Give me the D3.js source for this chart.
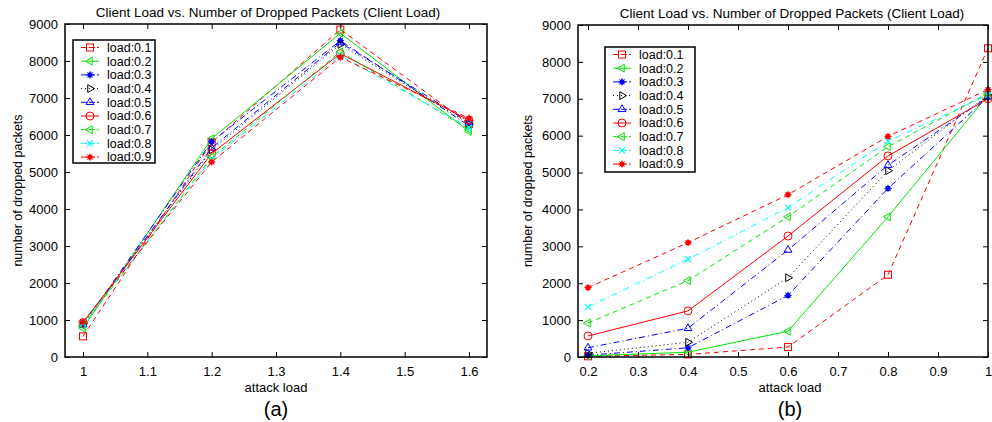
<!DOCTYPE html>
<html lang="en">
<head>
    <meta charset="UTF-8">
    <title>Client Load vs. Number of Dropped Packets</title>
    <script src="https://d3js.org/d3.v7.min.js"></script>
    <style>
        body {
            margin: 0;
            background: #fff;
            font-family: "Liberation Sans", Arial, sans-serif;
        }
        svg text {
            fill: #000;
        }
    </style>
</head>
<body>
    <script>
        // Data
        const loads = ["load:0.1", "load:0.2", "load:0.3", "load:0.4", "load:0.5",
                       "load:0.6", "load:0.7", "load:0.8", "load:0.9"];

        // panel (a): attack load 1 .. 1.6
        const attackA = [1, 1.2, 1.4, 1.6];
        const valuesA = [
            [560, 5800, 8850, 6300],
            [780, 5900, 8750, 6100],
            [870, 5820, 8550, 6250],
            [900, 5600, 8450, 6300],
            [880, 5650, 8500, 6350],
            [930, 5500, 8200, 6400],
            [850, 5400, 8250, 6150],
            [900, 5350, 8150, 6200],
            [950, 5270, 8100, 6450]
        ];

        // panel (b): attack load 0.2 .. 1
        const attackB = [0.2, 0.4, 0.6, 0.8, 1.0];
        const valuesB = [
            [20, 70, 270, 2230, 8370],
            [30, 130, 700, 3800, 7100],
            [50, 250, 1670, 4570, 7050],
            [100, 400, 2150, 5050, 7100],
            [250, 780, 2900, 5200, 7050],
            [570, 1250, 3280, 5450, 7000],
            [920, 2070, 3800, 5700, 7150],
            [1360, 2650, 4050, 5850, 7100],
            [1880, 3100, 4400, 5980, 7250]
        ];

        const ticksA = [1, 1.1, 1.2, 1.3, 1.4, 1.5, 1.6];
        const ticksB = [0.2, 0.3, 0.4, 0.5, 0.6, 0.7, 0.8, 0.9, 1];
        const ticksY = [0, 1000, 2000, 3000, 4000, 5000, 6000, 7000, 8000, 9000];

        // Styles (matlab-ish)
        const colors = ["#ff0000", "#00e600", "#0000ff", "#000000", "#0000ff",
                        "#ff0000", "#00e600", "#00ffff", "#ff0000"];
        const dashes = ["5,4", null, "6,3,1,3", "1,3", "6,3,1,3",
                        null, "5,4", "6,3,1,3", "5,4"];
        const markers = ["square", "tleft", "star", "tright", "tup",
                         "circle", "tleft", "x", "star"];

        const svg = d3.select("body").append("svg")
            .attr("width", 992)
            .attr("height", 422);

        function drawMarker(g, type, x, y, color) {
            const s = 3.5;
            if (type === "square") {
                g.append("rect").attr("x", x - s).attr("y", y - s)
                    .attr("width", 2 * s).attr("height", 2 * s)
                    .attr("fill", "none").attr("stroke", color).attr("stroke-width", 1);
            } else if (type === "circle") {
                g.append("circle").attr("cx", x).attr("cy", y).attr("r", 4)
                    .attr("fill", "none").attr("stroke", color).attr("stroke-width", 1);
            } else if (type === "star") {
                g.append("circle").attr("cx", x).attr("cy", y).attr("r", 2.6)
                    .attr("fill", color);
                [0, 45, 90, 135].forEach(a => {
                    const r = 3.6, t = a * Math.PI / 180;
                    g.append("line")
                        .attr("x1", x - r * Math.cos(t)).attr("y1", y - r * Math.sin(t))
                        .attr("x2", x + r * Math.cos(t)).attr("y2", y + r * Math.sin(t))
                        .attr("stroke", color).attr("stroke-width", 1);
                });
            } else if (type === "x") {
                const r = 3;
                g.append("path")
                    .attr("d", `M${x - r},${y - r}L${x + r},${y + r}M${x - r},${y + r}L${x + r},${y - r}`)
                    .attr("stroke", color).attr("stroke-width", 1.2);
            } else {
                const r = 4.5;
                let pts;
                if (type === "tup") pts = [[0, -r], [r * 0.87, r * 0.5], [-r * 0.87, r * 0.5]];
                if (type === "tleft") pts = [[-r, 0], [r * 0.5, -r * 0.87], [r * 0.5, r * 0.87]];
                if (type === "tright") pts = [[r, 0], [-r * 0.5, -r * 0.87], [-r * 0.5, r * 0.87]];
                g.append("path")
                    .attr("d", "M" + pts.map(p => (x + p[0]) + "," + (y + p[1])).join("L") + "Z")
                    .attr("fill", "none").attr("stroke", color).attr("stroke-width", 1);
            }
        }

        function panel(cfg) {
            const x = d3.scaleLinear().domain(cfg.xdomain).range([cfg.left, cfg.right]);
            const y = d3.scaleLinear().domain([0, 9000]).range([cfg.bottom, cfg.top]);
            const g = svg.append("g");

            // data lines
            const line = d3.line().x((d, i) => x(cfg.xs[i])).y(d => y(d));
            cfg.values.forEach((row, k) => {
                g.append("path")
                    .datum(row)
                    .attr("d", line)
                    .attr("fill", "none")
                    .attr("stroke", colors[k])
                    .attr("stroke-width", 1)
                    .attr("stroke-dasharray", dashes[k]);
                row.forEach((v, i) => drawMarker(g, markers[k], x(cfg.xs[i]), y(v), colors[k]));
            });

            // box
            g.append("rect")
                .attr("x", cfg.left).attr("y", cfg.top)
                .attr("width", cfg.right - cfg.left).attr("height", cfg.bottom - cfg.top)
                .attr("fill", "none").attr("stroke", "#000").attr("stroke-width", 1.5);

            // axes with inward ticks
            const xb = g.append("g").attr("transform", `translate(0,${cfg.bottom})`)
                .call(d3.axisBottom(x).tickValues(cfg.ticks).tickSizeInner(-5).tickSizeOuter(0)
                    .tickPadding(10).tickFormat(d3.format("")));
            const xt = g.append("g").attr("transform", `translate(0,${cfg.top})`)
                .call(d3.axisTop(x).tickValues(cfg.ticks).tickSizeInner(-5).tickSizeOuter(0)
                    .tickFormat(""));
            const yl = g.append("g").attr("transform", `translate(${cfg.left},0)`)
                .call(d3.axisLeft(y).tickValues(ticksY).tickSizeInner(-5).tickSizeOuter(0)
                    .tickPadding(7).tickFormat(d3.format("d")));
            const yr = g.append("g").attr("transform", `translate(${cfg.right},0)`)
                .call(d3.axisRight(y).tickValues(ticksY).tickSizeInner(-5).tickSizeOuter(0)
                    .tickFormat(""));
            [xb, xt, yl, yr].forEach(a => {
                a.select(".domain").remove();
                a.selectAll("line").attr("stroke", "#000");
                a.selectAll("text").attr("font-size", 13)
                    .attr("font-family", "Liberation Sans, Arial, sans-serif");
            });

            g.append("text").attr("x", cfg.titleX).attr("y", cfg.top - 7)
                .attr("text-anchor", "middle").attr("font-size", 13.5)
                .text("Client Load vs. Number of Dropped Packets (Client Load)");
            g.append("text").attr("x", cfg.labelX).attr("y", 392)
                .attr("text-anchor", "middle").attr("font-size", 13)
                .text("attack load");
            g.append("text").attr("x", cfg.labelX).attr("y", 416)
                .attr("text-anchor", "middle").attr("font-size", 20)
                .text(cfg.tag);
            g.append("text")
                .attr("transform", `translate(${cfg.ylabX},${(cfg.top + cfg.bottom) / 2}) rotate(-90)`)
                .attr("text-anchor", "middle").attr("font-size", 12.5)
                .text("number of dropped packets");

            // legend
            const lg = g.append("g");
            lg.append("rect")
                .attr("x", cfg.leg.x).attr("y", cfg.leg.y)
                .attr("width", cfg.leg.w).attr("height", cfg.leg.h)
                .attr("fill", "#fff").attr("stroke", "#000").attr("stroke-width", 1.5);
            loads.forEach((name, k) => {
                const yy = cfg.leg.y + 7.5 + k * 13.7;
                const x0 = cfg.leg.x + 8, x1 = cfg.leg.x + 26;
                lg.append("line").attr("x1", x0).attr("x2", x1).attr("y1", yy).attr("y2", yy)
                    .attr("stroke", colors[k]).attr("stroke-width", 1)
                    .attr("stroke-dasharray", dashes[k] ? (dashes[k] === "1,3" ? "1,3" : "6,2") : null);
                drawMarker(lg, markers[k], (x0 + x1) / 2, yy, colors[k]);
                lg.append("text").attr("x", x1 + 8).attr("y", yy).attr("dy", "0.35em")
                    .attr("font-size", 12.5).text(name);
            });
        }

        panel({
            xs: attackA, values: valuesA, ticks: ticksA,
            xdomain: [0.972, 1.628], left: 65, right: 487, top: 24, bottom: 357,
            titleX: 268, labelX: 276, ylabX: 22, tag: "(a)",
            leg: { x: 73, y: 40, w: 82, h: 123 }
        });

        panel({
            xs: attackB, values: valuesB, ticks: ticksB,
            xdomain: [0.18, 1.0], left: 578, right: 988, top: 25, bottom: 357,
            titleX: 792, labelX: 790, ylabX: 532, tag: "(b)",
            leg: { x: 605, y: 47, w: 90, h: 125 }
        });
    </script>
</body>
</html>
